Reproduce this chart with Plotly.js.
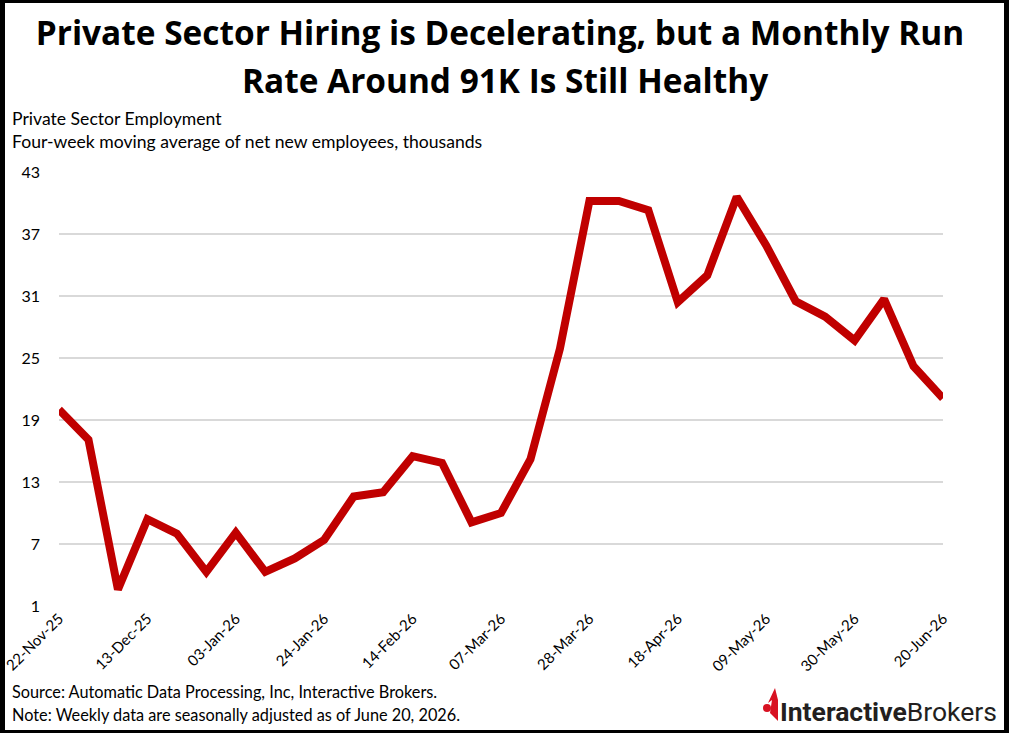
<!DOCTYPE html>
<html>
<head>
<meta charset="utf-8">
<script src="https://cdn.plot.ly/plotly-3.0.1.min.js"></script>
<style>
  html, body { margin: 0; padding: 0; background: #fff; }
  #wrap { position: relative; width: 1009px; height: 733px; }
  #chart { width: 1009px; height: 733px; }
  #frame { position: absolute; left: 0; top: 0; width: 1009px; height: 733px; box-sizing: border-box;
           border: 3px solid #000; border-left-width: 5px; border-right-width: 5px; pointer-events: none; }
</style>
</head>
<body>
<div id="wrap"><div id="chart"></div><div id="frame"></div></div>
<script>
const weeks = ['22-Nov-25','29-Nov-25','06-Dec-25','13-Dec-25','20-Dec-25','27-Dec-25','03-Jan-26','10-Jan-26',
  '17-Jan-26','24-Jan-26','31-Jan-26','07-Feb-26','14-Feb-26','21-Feb-26','28-Feb-26','07-Mar-26','14-Mar-26',
  '21-Mar-26','28-Mar-26','04-Apr-26','11-Apr-26','18-Apr-26','25-Apr-26','02-May-26','09-May-26','16-May-26',
  '23-May-26','30-May-26','06-Jun-26','13-Jun-26','20-Jun-26'];
const employment = [20.0, 17.1, 2.6, 9.4, 8.0, 4.3, 8.1, 4.3, 5.6, 7.4, 11.6, 12.0, 15.5, 14.85, 9.1, 10.0, 15.2,
  25.9, 40.2, 40.2, 39.3, 30.4, 33.0, 40.6, 35.9, 30.5, 29.0, 26.7, 30.7, 24.2, 21.1];
const xTickLabels = ['22-Nov-25','13-Dec-25','03-Jan-26','24-Jan-26','14-Feb-26','07-Mar-26','28-Mar-26',
  '18-Apr-26','09-May-26','30-May-26','20-Jun-26'];
const yTicks = [1, 7, 13, 19, 25, 31, 37, 43];
const titleLines = ['Private Sector Hiring is Decelerating, but a Monthly Run', 'Rate Around 91K Is Still Healthy'];

const W = 1009, H = 733;
const M = {l: 59, r: 66, t: 172, b: 127};
const pw = W - M.l - M.r, ph = H - M.t - M.b;
const px = x => (x - M.l) / pw;
const py = y => (H - M.b - y) / ph;

const FONT = 'Lato, "Open Sans", sans-serif';
const TFONT = '"Open Sans", Lato, sans-serif';
const TSIZE = 33.4;

const trace = {
  x: weeks, y: employment, type: 'scatter', mode: 'lines',
  line: {color: '#c00000', width: 8, shape: 'linear'},
  hoverinfo: 'x+y'
};

const layout = {
  width: W, height: H,
  margin: M,
  paper_bgcolor: '#fff', plot_bgcolor: '#fff',
  showlegend: false,
  font: {family: FONT, color: '#000'},
  title: {
    text: '<b>' + titleLines[0] + '</b>',
    font: {family: TFONT, size: TSIZE, color: '#000'},
    x: 500 / W, xanchor: 'center', xref: 'container',
    y: 1 - 33 / H, yanchor: 'middle', yref: 'container'
  },
  xaxis: {
    type: 'category',
    range: [0, weeks.length - 1],
    tickvals: xTickLabels, ticktext: xTickLabels,
    tickangle: -45,
    tickfont: {family: FONT, size: 15, color: '#000'},
    showgrid: false, zeroline: false, showline: false, ticks: '',
    fixedrange: true
  },
  yaxis: {
    range: [1, 43],
    tickvals: yTicks,
    tickfont: {family: FONT, size: 16, color: '#000'},
    showgrid: true, gridcolor: '#d9d9d9', gridwidth: 1.5,
    zeroline: false, showline: false, ticks: '',
    ticklabelstandoff: 18,
    fixedrange: true
  },
  annotations: [
    {text: '<b>' + titleLines[1] + '</b>', xref: 'paper', yref: 'paper', x: px(505), y: py(80),
     xanchor: 'center', yanchor: 'middle', showarrow: false, font: {family: TFONT, size: TSIZE, color: '#000'}},
    {text: 'Private Sector Employment', xref: 'paper', yref: 'paper', x: px(10), y: py(118),
     xanchor: 'left', yanchor: 'middle', showarrow: false, font: {family: FONT, size: 17.6, color: '#000'}},
    {text: 'Four-week moving average of net new employees, thousands', xref: 'paper', yref: 'paper', x: px(10), y: py(141),
     xanchor: 'left', yanchor: 'middle', showarrow: false, font: {family: FONT, size: 17.6, color: '#000'}},
    {text: 'Source: Automatic Data Processing, Inc, Interactive Brokers.', xref: 'paper', yref: 'paper', x: px(10), y: py(691),
     xanchor: 'left', yanchor: 'middle', showarrow: false, font: {family: FONT, size: 16.3, color: '#000'}},
    {text: 'Note: Weekly data are seasonally adjusted as of June 20, 2026.', xref: 'paper', yref: 'paper', x: px(10), y: py(714),
     xanchor: 'left', yanchor: 'middle', showarrow: false, font: {family: FONT, size: 16.3, color: '#000'}},
    {text: '<b>Interactive</b>Brokers', xref: 'paper', yref: 'paper', x: px(999), y: py(711),
     xanchor: 'right', yanchor: 'middle', showarrow: false,
     font: {family: '"Liberation Sans Narrow", "Roboto", sans-serif', size: 26.5, color: '#231f20'}}
  ],
  shapes: [
    {type: 'path', xref: 'paper', yref: 'paper', fillcolor: '#d81222', line: {width: 0},
     path: `M ${px(775)} ${py(688)} L ${px(778)} ${py(700)} L ${px(778)} ${py(721)} L ${px(770)} ${py(713)} L ${px(772)} ${py(700)} L ${px(768)} ${py(703)} Z`},
    {type: 'circle', xref: 'paper', yref: 'paper', fillcolor: '#d81222', line: {width: 0},
     x0: px(763), x1: px(771), y0: py(712), y1: py(704)}
  ]
};

Plotly.newPlot('chart', [trace], layout, {displayModeBar: false, staticPlot: true});
</script>
</body>
</html>
